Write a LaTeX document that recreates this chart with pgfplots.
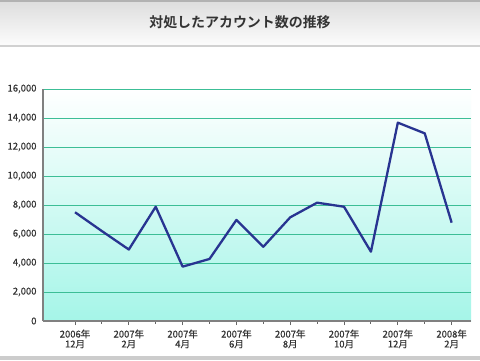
\documentclass[border=0pt]{standalone}
\usepackage{pgfplots}
\pgfplotsset{compat=1.18}
\usepackage{fontspec}
\setmainfont{Noto Sans CJK JP}
\newfontfamily\titlefont{Noto Sans CJK JP}[BoldFont={* Bold}]
\newfontfamily\lblfont{Noto Sans CJK JP}[FakeBold=0.35]
\definecolor{txt}{RGB}{51,51,51}
\definecolor{gridc}{RGB}{60,190,150}
\definecolor{linec}{RGB}{40,52,145}
\definecolor{cyanbg}{RGB}{165,245,232}
\begin{document}
\begin{tikzpicture}[x=1bp,y=1bp]
\useasboundingbox (0,0) rectangle (480,360);
\fill[white] (0,0) rectangle (480,360);
% title band
\shade[top color={rgb,255:red,222;green,222;blue,222}, bottom color={rgb,255:red,252;green,252;blue,252}] (0,315) rectangle (480,358);
\fill[black!30] (0,357.5) rectangle (480,360);
\fill[black!18] (0,313.5) rectangle (480,315.5);
\node[font=\titlefont\bfseries\fontsize{14}{16}\selectfont, text=txt] at (240,337.5) {対処したアカウント数の推移};
\fill[black!20] (0,0) rectangle (480,4);
\begin{axis}[
  at={(43bp,39bp)}, anchor=south west,
  scale only axis, width=428bp, height=232bp,
  xmin=-1.19, xmax=14.72, ymin=0, ymax=16000,
  axis x line*=bottom, axis y line*=left,
  axis line style={-, draw=black!50, line width=1.8bp},
  axis background/.style={shade, top color=white, bottom color=cyanbg},
  ytick={0,2000,...,16000},
  ymajorgrids, grid style={gridc, line width=0.9bp},
  xtick={0,2,...,14},
  minor xtick={1,3,...,13},
  xticklabels={{2006年\\12月},{2007年\\2月},{2007年\\4月},{2007年\\6月},{2007年\\8月},{2007年\\10月},{2007年\\12月},{2008年\\2月}},
  xticklabel style={align=center, font=\lblfont\fontsize{9.5}{10}\selectfont, text=txt, yshift=-1bp},
  yticklabel style={font=\lblfont\fontsize{9.5}{11}\selectfont, text=txt, xshift=1bp},
  scaled y ticks=false,
  /pgf/number format/.cd, 1000 sep={,}, assume math mode=true, /pgfplots/.cd,
  tick align=outside,
  major x tick style={black!60, line width=1bp},
  minor x tick style={black!60, line width=1bp},
  major tick length=4bp, minor tick length=2.5bp,
  y tick style={draw=none},
  clip=false,
]
\addplot[linec, line width=2.3bp, line join=round] coordinates {
(0,7500) (1,6200) (2,4930) (3,7880) (4,3750) (5,4280) (6,6970) (7,5120)
(8,7150) (9,8160) (10,7880) (11,4780) (12,13680) (13,12940) (14,6780)
};
\end{axis}
\end{tikzpicture}
\end{document}
